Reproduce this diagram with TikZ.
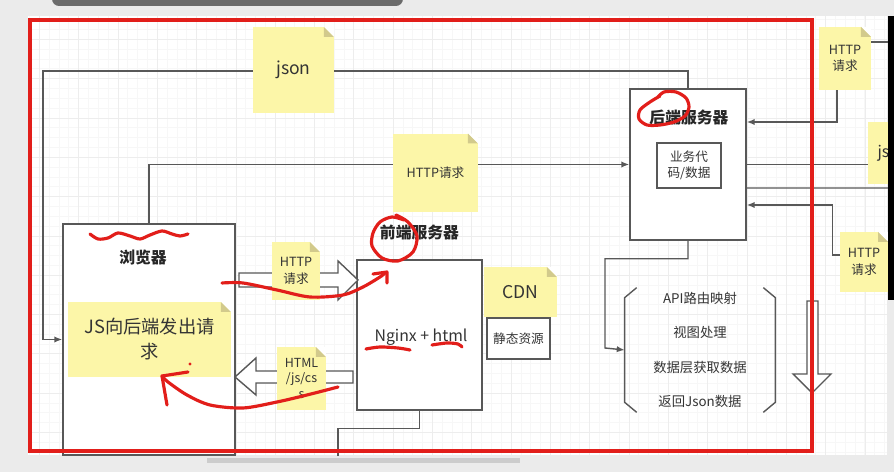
\documentclass[tikz,border=0pt]{standalone}
\usepackage{fontspec}
\setmainfont{Noto Sans CJK SC}
\usetikzlibrary{arrows.meta,positioning}
\definecolor{notefill}{RGB}{252,246,168}
\definecolor{notefold}{RGB}{210,202,140}
\definecolor{markred}{RGB}{226,30,26}
\definecolor{linegray}{RGB}{88,88,88}
\definecolor{txtgray}{RGB}{52,52,52}
\begin{document}
\begin{tikzpicture}[x=0.02cm,y=-0.02cm,
  box/.style={draw=linegray,line width=0.9pt,fill=white,inner sep=0pt},
  note/.style={fill=notefill,inner sep=0pt,align=center,text=txtgray,
    path picture={
      \fill[white] ([xshift=-0.2cm]path picture bounding box.north east)
        -- (path picture bounding box.north east)
        -- ([yshift=-0.2cm]path picture bounding box.north east) -- cycle;
      \fill[notefold] ([xshift=-0.2cm]path picture bounding box.north east)
        -- ([xshift=-0.2cm,yshift=-0.2cm]path picture bounding box.north east)
        -- ([yshift=-0.2cm]path picture bounding box.north east) -- cycle;}},
  conn/.style={draw=linegray,line width=0.8pt},
  arr/.style={-{Latex[length=4.5pt,width=3.6pt]}},
  hollow/.style={draw=linegray,line width=0.8pt,fill=white},
  scribble/.style={draw=markred,line width=1.8pt,line cap=round,line join=round},
  tiny/.style={font=\fontsize{7.2}{9.4}\selectfont},
  boldlabel/.style={font=\fontsize{9}{10}\selectfont\bfseries,text=black!85}]

\useasboundingbox (0,0) rectangle (894,472);
% screen around the canvas
\fill[black!8] (0,0) rectangle (894,472);
\fill[white] (28,16) rectangle (887,455);
\draw[black!3,step=0.1966cm] (28,16) grid (887,455);
\draw[black!7,step=0.7864cm] (28,16) grid (887,455);
\fill[black!58,rounded corners=4pt] (52,-10) rectangle (403,6);
\fill[black!20] (207,458) rectangle (520,463);

% boxes
\node[box,minimum width=3.44cm,minimum height=4.62cm] (browser) at (149,339.5) {};
\node[box,minimum width=2.5cm,minimum height=3.0cm] (frontend) at (419.5,335) {};
\node[box,minimum width=1.26cm,minimum height=0.82cm] (cdnbox) at (518.5,338.5) {};
\node[box,minimum width=2.32cm,minimum height=3.02cm] (backend) at (688,164.5) {};
\node[box,minimum width=1.28cm,minimum height=0.9cm,tiny,align=center,text=txtgray] (bizcode) at (689,165.5) {业务代\\码/数据};
\node[minimum width=3.0cm,minimum height=2.48cm,inner sep=0pt,align=center,text=txtgray,
  font=\fontsize{7.6}{19.6}\selectfont] (apilist) at (700,350)
  {API路由映射\\视图处理\\数据层获取数据\\返回Json数据};

% connectors
\coordinate (jsonleft) at (43,71);
\coordinate (feout) at (338,456);
\coordinate (rightend) at (894,188);
\coordinate (topright) at (894,42);
\draw[conn,arr] (backend.north) |- (jsonleft) |- (browser.west);
\draw[conn,arr] (browser.north) |- (backend.west);
\draw[conn] (frontend.south) -- ++(0,18) -| (feout);
\draw[conn,arr] (backend.south) -- ++(0,18) -| (605,348) -- (apilist.west);
\draw[conn] ([xshift=0.24cm]apilist.north west) -- ([yshift=-0.2cm]apilist.north west)
  -- ([yshift=0.2cm]apilist.south west) -- ([xshift=0.24cm]apilist.south west);
\draw[conn] ([xshift=-0.24cm]apilist.north east) -- ([yshift=-0.2cm]apilist.north east)
  -- ([yshift=0.2cm]apilist.south east) -- ([xshift=-0.24cm]apilist.south east);

% hollow arrows
\draw[hollow] (239,273) -- (338,273) -- (338,261) -- (358,280) -- (338,300) -- (338,287) -- (239,287) -- cycle;
\draw[hollow] (353,371) -- (256,371) -- (256,358) -- (235,377) -- (256,395) -- (256,383) -- (353,383) -- cycle;
\draw[hollow] (807,301) -- (818,301) -- (818,374) -- (831,374) -- (812,393) -- (793,374) -- (807,374) -- cycle;

% sticky notes
\node[note,minimum width=1.62cm,minimum height=1.72cm,font=\fontsize{10}{12}\selectfont] (jsonnote) at (293.5,70) {json};
\node[note,minimum width=1.7cm,minimum height=1.58cm,tiny] (httpnote) at (435.5,173) {HTTP请求};
\node[note,minimum width=0.96cm,minimum height=1.16cm,tiny] (reqnote) at (296,271) {HTTP\\请求};
\node[note,minimum width=0.98cm,minimum height=1.26cm,font=\fontsize{7.1}{8.6}\selectfont] (htmlnote) at (301.5,378.5) {HTML\\/js/cs\\s};
\node[note,minimum width=3.26cm,minimum height=1.5cm,font=\fontsize{10.4}{14.2}\selectfont] (jsnote) at (149.5,339.5) {JS向后端发出请\\求};
\node[note,minimum width=1.46cm,minimum height=1.0cm,font=\fontsize{10}{12}\selectfont] (cdnnote) at (520.5,292) {CDN};
\node[tiny,text=txtgray] (static) at (cdnbox.center) {静态资源};
\node[note,minimum width=1.04cm,minimum height=1.26cm,tiny] (rhttpa) at (845,58.5) {HTTP\\请求};
\node[note,minimum width=0.96cm,minimum height=1.2cm,tiny] (rhttpb) at (864,262) {HTTP\\请求};
\begin{scope}
\clip (0,0) rectangle (888,472);
\node[note,minimum width=1.0cm,minimum height=1.24cm,font=\fontsize{9}{11}\selectfont] (rjson) at (893,153) {json};
\end{scope}

% right side links
\draw[conn] (rhttpa.east |- topright) -- (topright);
\draw[conn,arr] ([xshift=-0.16cm]rhttpa.south) |- ([yshift=0.85cm]backend.east);
\draw[conn] (backend.east) -- (backend.east -| rjson.west);
\draw[conn] ([yshift=-0.47cm]backend.east) -- (rightend);
\draw[conn,arr] ([yshift=0.14cm]rhttpb.west) -- ++(-0.14cm,0) |- ([yshift=-0.81cm]backend.east);

% labels
\node[boldlabel] (browserlabel) at (143,258) {浏览器};
\node[boldlabel,above=0.26cm of frontend.north] (frontlabel) {前端服务器};
\node[boldlabel] (backlabel) at (689,118) {后端服务器};
\node[font=\fontsize{9}{11}\selectfont,text=txtgray] (nginx) at (421,337) {Nginx + html};

% red frame and pen marks
\draw[markred,line width=2pt] (30,20) rectangle (812,451);
\draw[scribble] plot[smooth] coordinates {(90,234) (98,239) (108,238) (118,233) (130,236) (140,239) (150,235) (162,231) (172,234) (180,236) (188,234)};
\draw[scribble] plot[smooth] coordinates {(222,283) (243,283) (277,290) (310,297) (343,295) (363,287) (380,277) (385,273)};
\draw[scribble] (373,274) -- (387,272) -- (387,283);
\draw[scribble] plot[smooth] coordinates {(404,220) (392,217) (380,222) (373,233) (372,246) (382,258) (398,261) (413,252) (417,236) (408,222) (396,215)};
\draw[scribble] plot[smooth] coordinates {(366,349) (380,347) (398,348) (410,350)};
\draw[scribble] plot[smooth] coordinates {(432,345) (447,343) (458,344) (462,347)};
\draw[scribble] plot[smooth] coordinates {(338,387) (307,395) (277,402) (243,408) (210,405) (187,395) (168,382) (162,376)};
\draw[scribble] (188,372) -- (162,376) -- (167,405);
\fill[markred] (190,364) circle (1.6);
\draw[scribble] plot[smooth] coordinates {(657,98) (664,92) (676,92) (686,98) (689,107) (685,116) (674,122) (660,125) (647,125) (639,119) (640,110) (650,102) (660,96)};

% screen edge
\fill[black] (888,16) rectangle (894,300);
\end{tikzpicture}
\end{document}
